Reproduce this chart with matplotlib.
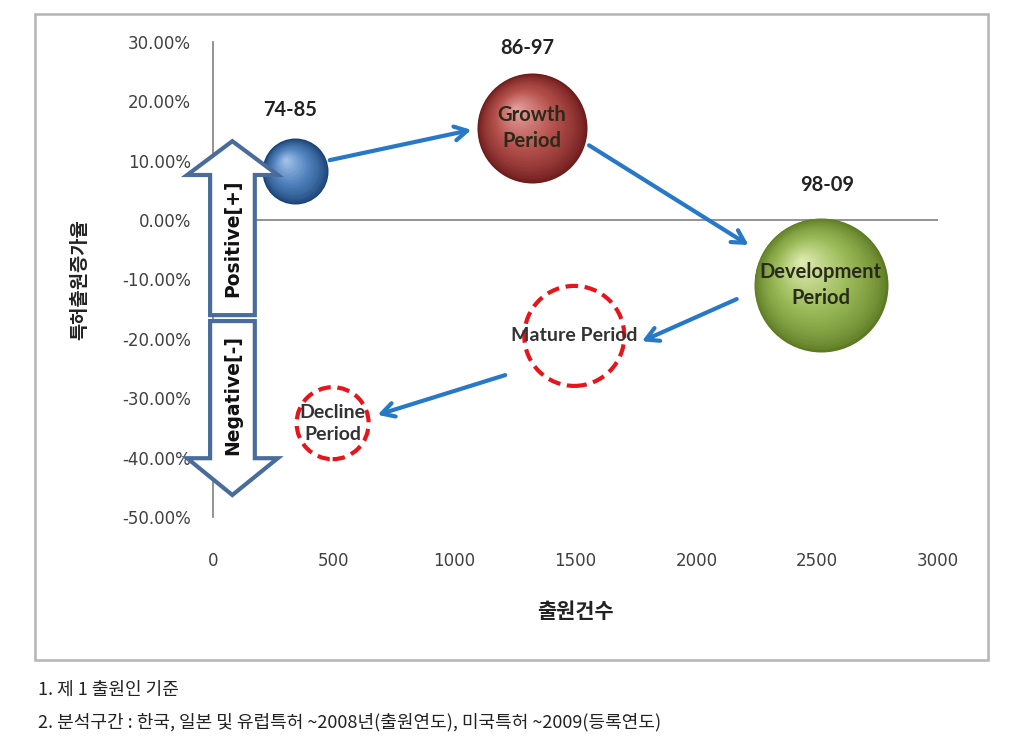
import numpy as np
import matplotlib
matplotlib.use("Agg")
import matplotlib.pyplot as plt
import matplotlib.transforms as mtransforms
from matplotlib.patches import Polygon, Rectangle
from matplotlib.colors import to_rgb
from matplotlib.ticker import FuncFormatter

plt.rcParams['font.family'] = ['Noto Sans CJK KR', 'DejaVu Sans']

# bubbles (period, x = 출원건수, y = 특허출원증가율)
periods = ["74-85", "86-97", "98-09"]
bubble_names = ["", "Growth\nPeriod", "Development\nPeriod"]
bubble_x = [340, 1320, 2515]
bubble_y = [0.082, 0.155, -0.109]
bubble_r = [33, 55, 67]  # radius in px
bubble_cols = [("#173f70", "#4f81bd", "#a9c6ec"),
               ("#6a1a1a", "#b5504c", "#e8a4a2"),
               ("#5c7a22", "#9bbb59", "#e2eeb5")]

# dashed (future) stages
stage_names = ["Mature Period", "Decline\nPeriod"]
stage_x = [1495, 495]
stage_y = [-0.195, -0.342]
stage_r = [50, 36]

# flow arrows (start -> end)
arrow_from = [(483, 0.101), (1556, 0.126), (2167, -0.133), (1209, -0.261)]
arrow_to = [(1069, 0.152), (2216, -0.042), (1775, -0.204), (681, -0.328)]

x_ticks = [0, 500, 1000, 1500, 2000, 2500, 3000]
y_ticks = [-0.5, -0.4, -0.3, -0.2, -0.1, 0.0, 0.1, 0.2, 0.3]

fig = plt.figure(figsize=(10.09, 7.42), dpi=100)
W, H = 1009, 742
ax = fig.add_axes([213 / W, 1 - 517 / H, (938 - 213) / W, (517 - 42) / H])
ax.set_xlim(0, 3000)
ax.set_ylim(-0.5, 0.3)
for s in ax.spines.values():
    s.set_visible(False)
ax.set_xticks(x_ticks)
ax.set_yticks(y_ticks)
ax.yaxis.set_major_formatter(FuncFormatter(lambda v, p: f"{v * 100:.2f}%"))
ax.tick_params(length=0, labelsize=12, labelcolor="#404040")
ax.tick_params(axis="x", pad=25)
ax.tick_params(axis="y", pad=16)
for lab in ax.get_xticklabels() + ax.get_yticklabels():
    lab.set_family(["DejaVu Sans"])
ax.axhline(0, color="#808080", lw=1.2, zorder=1)
ax.plot([0, 0], [-0.5, 0.3], color="#808080", lw=1.2, zorder=1, clip_on=False)


def mix(c1, c2, t):
    a, b = np.array(to_rgb(c1)), np.array(to_rgb(c2))
    return tuple(a + (b - a) * t)


def sphere(x, y, r, dark, mid, light):
    n = 45
    for k in range(n):
        f = 1 - k / n
        rr = r * f
        dx = -(1 - f) * r * 0.30
        dy = (1 - f) * r * 0.36
        tr = mtransforms.offset_copy(ax.transData, fig=fig, x=dx * 0.72, y=dy * 0.72, units="points")
        t = 1 - f
        if t < 0.45:
            col = mix(dark, mid, (t / 0.45) ** 0.7)
        else:
            col = mix(mid, light, (t - 0.45) / 0.55)
        ax.scatter([x], [y], s=(2 * rr * 0.72) ** 2, color=col, transform=tr,
                   linewidths=0, zorder=3, clip_on=False)


for i in range(len(periods)):
    sphere(bubble_x[i], bubble_y[i], bubble_r[i], *bubble_cols[i])
    if bubble_names[i]:
        ax.text(bubble_x[i], bubble_y[i], bubble_names[i], ha="center", va="center",
                fontsize=14.5, fontweight="bold", color="#2a2a1a", family=["Lato"],
                linespacing=1.35, zorder=5)

label_off = [(-20, 0.103), (-20, 0.135), (25, 0.168)]
for i, p in enumerate(periods):
    ax.text(bubble_x[i] + label_off[i][0], bubble_y[i] + label_off[i][1], p,
            ha="center", va="center", fontsize=14.5, fontweight="bold",
            color="#222222", family=["Lato"], zorder=5)

for i in range(len(stage_names)):
    ax.scatter([stage_x[i]], [stage_y[i]], s=(2 * stage_r[i] * 0.72) ** 2,
               facecolors="none", edgecolors="#e8141c", linewidths=3,
               linestyles=(0, (3, 1.6)), zorder=3)
    ax.text(stage_x[i], stage_y[i], stage_names[i], ha="center", va="center",
            fontsize=14, fontweight="bold", color="#333333", family=["Lato"],
            linespacing=1.35, zorder=5)

for a, b in zip(arrow_from, arrow_to):
    ax.annotate("", xy=b, xytext=a,
                arrowprops=dict(arrowstyle="->,head_length=0.9,head_width=0.5",
                                color="#2878c8", lw=3, shrinkA=0, shrinkB=0),
                zorder=4)

# up / down block arrows on the y axis
up = [(-12, -0.160), (-12, 0.076), (-107, 0.076), (80, 0.133), (268, 0.076), (173, 0.076), (173, -0.160)]
down = [(-12, -0.170), (-12, -0.401), (-107, -0.401), (80, -0.463), (268, -0.401), (173, -0.401), (173, -0.170)]
for pts in (up, down):
    ax.add_patch(Polygon(pts, closed=True, facecolor="white", edgecolor="#4a6c9c",
                         lw=3, zorder=6, clip_on=False, joinstyle="miter"))
ax.text(80, -0.03, "Positive[+]", rotation=90, ha="center", va="center",
        fontsize=13.5, fontweight="bold", color="#111111", family=["DejaVu Sans"], zorder=7)
ax.text(80, -0.295, "Negative[-]", rotation=90, ha="center", va="center",
        fontsize=13.5, fontweight="bold", color="#111111", family=["DejaVu Sans"], zorder=7)

fig.text(80 / W, 1 - 280 / H, "특허출원증가율", rotation=90, ha="center", va="center",
         fontsize=13.5, fontweight="bold", color="#222222")
fig.text(575 / W, 1 - 612 / H, "출원건수", ha="center", va="center",
         fontsize=15, fontweight="bold", color="#222222")

fig.add_artist(Rectangle((35 / W, 1 - 660 / H), (988 - 35) / W, (660 - 14) / H,
                         transform=fig.transFigure, facecolor="none",
                         edgecolor="#b4b4b4", lw=1.8))

fig.text(38 / W, 1 - 690 / H, "1. 제 1 출원인 기준", ha="left", va="center",
         fontsize=13, color="#222222")
fig.text(38 / W, 1 - 722 / H, "2. 분석구간 : 한국, 일본 및 유럽특허 ~2008년(출원연도), 미국특허 ~2009(등록연도)",
         ha="left", va="center", fontsize=13, color="#222222")

fig.savefig("out.png", dpi=100)
